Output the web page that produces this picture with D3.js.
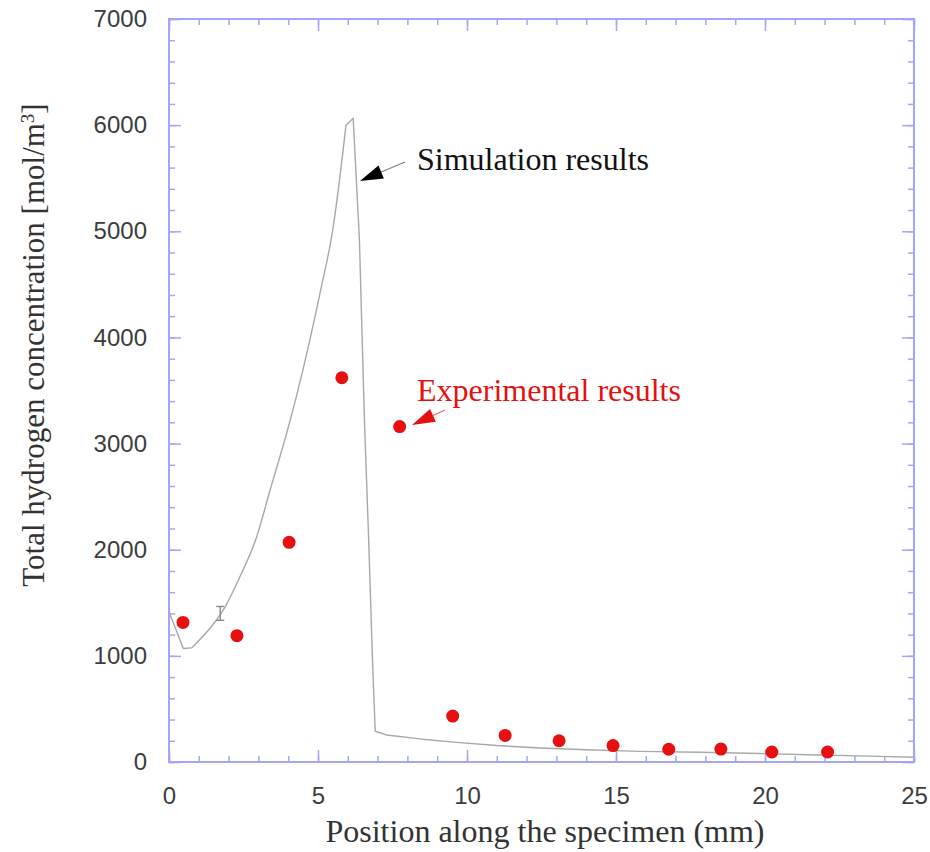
<!DOCTYPE html>
<html>
<head>
<meta charset="utf-8">
<script src="https://cdn.jsdelivr.net/npm/d3@7"></script>
<style>
  html, body { margin: 0; padding: 0; background: #fff; }
  svg { display: block; }
</style>
</head>
<body>
<svg id="chart" width="930" height="852"></svg>
<script>
// Simulated total hydrogen concentration along the specimen
const simPosition = [0, 0.48, 0.76, 1.49, 1.88, 2.38, 2.94, 3.39, 3.95, 4.28, 5.07, 5.51, 5.94, 6.18,
                     6.39, 6.56, 6.70, 6.83, 6.92, 7.30, 8.5, 9.65, 11.0, 12.45, 14.0, 15.8, 17.8,
                     19.8, 21.8, 23.5, 25];
const simConcentration = [1415, 1070, 1075, 1300, 1460, 1745, 2120, 2560, 3100, 3450, 4420, 5040, 6000, 6065,
                          4920, 3200, 2100, 950, 290, 255, 215, 185, 155, 132, 115, 100, 92,
                          80, 66, 55, 45];

// Error bar drawn on the simulation curve
const simErrPosition = [1.72];
const simErrLow = [1335];
const simErrHigh = [1465];

// Measured concentrations
const expPosition = [0.47, 2.28, 4.03, 5.80, 7.74, 9.52, 11.28, 13.09, 14.90, 16.77, 18.52, 20.23, 22.10];
const expConcentration = [1315, 1190, 2070, 3620, 3160, 433, 250, 200, 155, 120, 122, 94, 94];

// Axis ticks
const xMajorTicks = [0, 5, 10, 15, 20, 25];
const yMajorTicks = [0, 1000, 2000, 3000, 4000, 5000, 6000, 7000];

const svg = d3.select("#chart");
const plotLeft = 169, plotTop = 19, plotWidth = 745, plotHeight = 743;
const frameColor = "#a4a4fb";

const x = d3.scaleLinear().domain([0, 25]).range([plotLeft, plotLeft + plotWidth]);
const y = d3.scaleLinear().domain([0, 7000]).range([plotTop + plotHeight, plotTop]);

const xMinor = d3.range(0, 25.01, 1);
const yMinor = d3.range(0, 7001, 200);

function styleAxis(g) {
  g.select(".domain").remove();
  g.selectAll(".tick line").attr("stroke", frameColor).attr("stroke-width", 1.5);
  g.selectAll(".tick text")
    .attr("fill", "#3c3c3c")
    .style("font-family", "'Liberation Sans', Arial, sans-serif")
    .style("font-size", "24px");
}

// Bottom axis: minor and major ticks pointing inward, labels below
svg.append("g").attr("transform", `translate(0,${plotTop + plotHeight})`)
  .call(d3.axisBottom(x).tickValues(xMinor).tickSize(-6).tickFormat(""))
  .call(styleAxis);
svg.append("g").attr("transform", `translate(0,${plotTop + plotHeight})`)
  .call(d3.axisBottom(x).tickValues(xMajorTicks).tickSize(-12).tickPadding(25).tickFormat(d3.format("d")))
  .call(styleAxis);

// Top axis
svg.append("g").attr("transform", `translate(0,${plotTop})`)
  .call(d3.axisTop(x).tickValues(xMinor).tickSize(-6).tickFormat(""))
  .call(styleAxis);
svg.append("g").attr("transform", `translate(0,${plotTop})`)
  .call(d3.axisTop(x).tickValues(xMajorTicks).tickSize(-12).tickFormat(""))
  .call(styleAxis);

// Left axis
svg.append("g").attr("transform", `translate(${plotLeft},0)`)
  .call(d3.axisLeft(y).tickValues(yMinor).tickSize(-6).tickFormat(""))
  .call(styleAxis);
svg.append("g").attr("transform", `translate(${plotLeft},0)`)
  .call(d3.axisLeft(y).tickValues(yMajorTicks).tickSize(-12).tickPadding(22).tickFormat(d3.format("d")))
  .call(styleAxis);

// Right axis
svg.append("g").attr("transform", `translate(${plotLeft + plotWidth},0)`)
  .call(d3.axisRight(y).tickValues(yMinor).tickSize(-6).tickFormat(""))
  .call(styleAxis);
svg.append("g").attr("transform", `translate(${plotLeft + plotWidth},0)`)
  .call(d3.axisRight(y).tickValues(yMajorTicks).tickSize(-12).tickFormat(""))
  .call(styleAxis);

// Plot frame
svg.append("rect")
  .attr("x", plotLeft).attr("y", plotTop).attr("width", plotWidth).attr("height", plotHeight)
  .attr("fill", "none").attr("stroke", frameColor).attr("stroke-width", 2);

// Simulation curve: the rising flank (from the trough to the shoulder) is smooth,
// the rest is drawn with straight segments so the corners stay sharp.
const simData = simPosition.map((p, i) => [p, simConcentration[i]]);
const riseStart = 2, riseEnd = 12;
const segments = [
  { pts: simData.slice(0, riseStart + 1), curve: d3.curveLinear },
  { pts: simData.slice(riseStart, riseEnd + 1), curve: d3.curveMonotoneX },
  { pts: simData.slice(riseEnd), curve: d3.curveLinear }
];
segments.forEach(s => {
  svg.append("path")
    .datum(s.pts)
    .attr("fill", "none")
    .attr("stroke", "#a8a8a8")
    .attr("stroke-width", 1.4)
    .attr("stroke-linejoin", "round")
    .attr("d", d3.line().curve(s.curve).x(d => x(d[0])).y(d => y(d[1])));
});

// Error bar on the simulation curve
simErrPosition.forEach((p, i) => {
  const g = svg.append("g").attr("stroke", "#8a8a8a").attr("stroke-width", 1.4);
  g.append("line").attr("x1", x(p)).attr("x2", x(p)).attr("y1", y(simErrLow[i])).attr("y2", y(simErrHigh[i]));
  g.append("line").attr("x1", x(p) - 4).attr("x2", x(p) + 4).attr("y1", y(simErrLow[i])).attr("y2", y(simErrLow[i]));
  g.append("line").attr("x1", x(p) - 4).attr("x2", x(p) + 4).attr("y1", y(simErrHigh[i])).attr("y2", y(simErrHigh[i]));
});

// Experimental points
svg.append("g").selectAll("circle")
  .data(expPosition.map((p, i) => [p, expConcentration[i]]))
  .join("circle")
  .attr("cx", d => x(d[0]))
  .attr("cy", d => y(d[1]))
  .attr("r", 6.5)
  .attr("fill", "#e5100f");

// Annotation arrows
function arrow(x1, y1, x2, y2, color, lineColor) {
  const ang = Math.atan2(y2 - y1, x2 - x1);
  const len = 23, half = 7;
  const bx = x2 - len * Math.cos(ang), by = y2 - len * Math.sin(ang);
  svg.append("line")
    .attr("x1", x1).attr("y1", y1).attr("x2", bx).attr("y2", by)
    .attr("stroke", lineColor).attr("stroke-width", 1.2);
  const px = -Math.sin(ang) * half, py = Math.cos(ang) * half;
  svg.append("path")
    .attr("d", `M${x2},${y2}L${bx + px},${by + py}L${bx - px},${by - py}Z`)
    .attr("fill", color);
}
arrow(405, 162, 360, 181, "#000", "#808080");
arrow(445, 410, 412, 425, "#e5100f", "#f06060");

const serif = "'Liberation Serif', 'Times New Roman', serif";
svg.append("text")
  .attr("x", 417).attr("y", 170)
  .style("font-family", serif).style("font-size", "32px")
  .attr("fill", "#111")
  .text("Simulation results");
svg.append("text")
  .attr("x", 417).attr("y", 401)
  .style("font-family", serif).style("font-size", "32px")
  .attr("fill", "#e5100f")
  .text("Experimental results");

// Axis titles
svg.append("text")
  .attr("x", 545).attr("y", 842)
  .attr("text-anchor", "middle")
  .style("font-family", serif).style("font-size", "32px")
  .attr("fill", "#333")
  .text("Position along the specimen (mm)");

const yTitle = svg.append("text")
  .attr("transform", "translate(44,345) rotate(-90)")
  .attr("text-anchor", "middle")
  .style("font-family", serif).style("font-size", "31px")
  .attr("fill", "#333");
yTitle.append("tspan").text("Total hydrogen concentration [mol/m");
yTitle.append("tspan").attr("baseline-shift", "super").style("font-size", "19px").text("3");
yTitle.append("tspan").text("]");
</script>
</body>
</html>
